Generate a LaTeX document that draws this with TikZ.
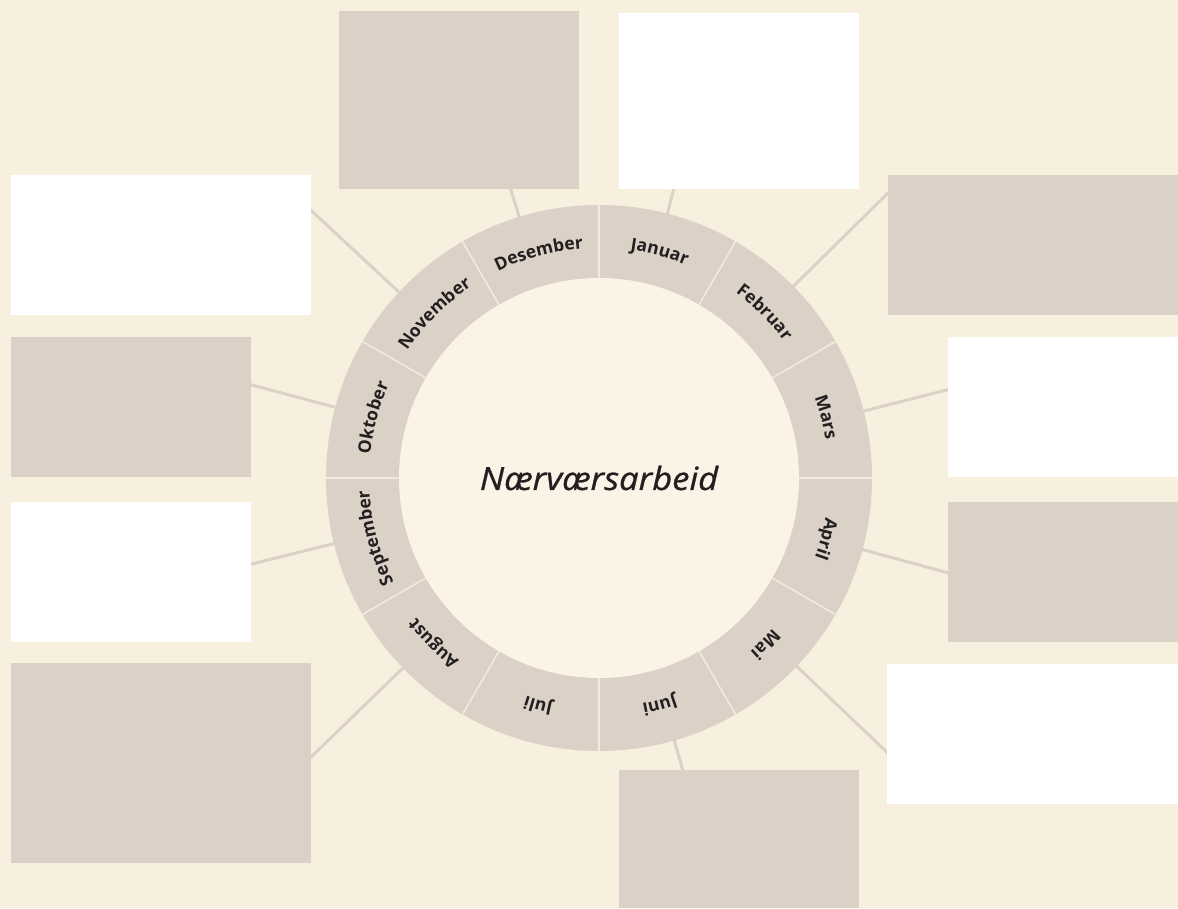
\documentclass[tikz,border=0pt]{standalone}
\usepackage{graphicx}
\usepackage{fontspec}
\setmainfont{Open Sans}
\newfontfamily\titlefont{Open Sans}[FakeBold=0.8]
\usetikzlibrary{decorations.text,calc}
\definecolor{bg}{HTML}{F7F0DF}
\definecolor{ringtan}{HTML}{DBD1C6}
\definecolor{innerfill}{HTML}{FAF3E6}
\definecolor{ink}{HTML}{231F20}
\definecolor{divline}{HTML}{F2EBDD}
\newcommand\monthfont{\fontsize{17.5}{17.5}\selectfont\bfseries}
\newcommand\monthlabel[2]{%
  \path[decorate, decoration={text along path, text align=center, text color=ink,
    text={|\monthfont|#1}}]
    ($(C)+(#2+15:230)$) arc[start angle=#2+15, end angle=#2-15, radius=230];}
\begin{document}
\begin{tikzpicture}[x=1pt,y=1pt,
  boxbase/.style={draw=none, inner sep=0pt, anchor=south west},
  tanbox/.style={boxbase, fill=ringtan},
  whitebox/.style={boxbase, fill=white},
  conn/.style={draw=ringtan, line width=3pt},
  divider/.style={draw=divline, line width=1.6pt}]
\useasboundingbox (0,0) rectangle (1178,908);
\fill[bg] (0,0) rectangle (1178,908);
\coordinate (C) at (599,430);

% connectors (radial)
\foreach \n/\a/\r in {Des/107/302.2, Jan/75.5/298.5, Feb/44.6/405.9, Mar/14.2/360.0,
  Apr/-15.2/361.7, Mai/-43.6/397.7, Jun/-74/303.8, Aug/224.1/401.1,
  Sep/193.9/358.5, Okt/165/360.3, Nov/137.1/393.2}{
  \coordinate (s\n) at ($(C)+(\a:270)$);
  \coordinate (e\n) at ($(C)+(\a:\r+3)$);
  \draw[conn] (s\n) -- (e\n);
}

% boxes
\node[tanbox,   minimum width=240, minimum height=178] (bDes) at (339,719) {};
\node[whitebox, minimum width=240, minimum height=176] (bJan) at (619,719) {};
\node[tanbox,   minimum width=290, minimum height=140] (bFeb) at (888,593) {};
\node[whitebox, minimum width=230, minimum height=140] (bMar) at (948,431) {};
\node[tanbox,   minimum width=230, minimum height=140] (bApr) at (948,266) {};
\node[whitebox, minimum width=291, minimum height=140] (bMai) at (887,104) {};
\node[tanbox,   minimum width=240, minimum height=138] (bJun) at (619,0) {};
\node[tanbox,   minimum width=300, minimum height=200] (bAug) at (11,45) {};
\node[whitebox, minimum width=240, minimum height=140] (bSep) at (11,266) {};
\node[tanbox,   minimum width=240, minimum height=140] (bOkt) at (11,431) {};
\node[whitebox, minimum width=300, minimum height=140] (bNov) at (11,593) {};

% ring
\fill[ringtan] (C) circle[radius=273];
\fill[innerfill] (C) circle[radius=200];
\foreach \t in {0,30,...,330}{
  \draw[divider] ($(C)+(\t:200)$) -- ($(C)+(\t:273)$);
}

% month labels
\monthlabel{Januar}{75}
\monthlabel{Februar}{45}
\monthlabel{Mars}{15}
\monthlabel{April}{-15}
\monthlabel{Mai}{-45}
\monthlabel{Juni}{-75}
\monthlabel{Juli}{-105}
\monthlabel{August}{-135}
\monthlabel{September}{-165}
\monthlabel{Oktober}{165}
\monthlabel{November}{135}
\monthlabel{Desember}{105}

\node[text=ink, inner sep=0pt] (title) at (C)
  {\scalebox{1.08}[1]{\titlefont\itshape\fontsize{32}{32}\selectfont Nærværsarbeid}};
\end{tikzpicture}
\end{document}
